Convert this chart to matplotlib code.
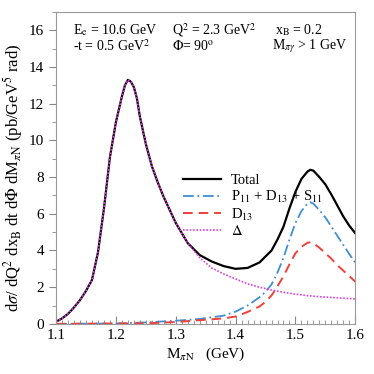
import numpy as np
import matplotlib
matplotlib.use('Agg')
import matplotlib.pyplot as plt
from matplotlib.ticker import MultipleLocator

plt.rcParams['font.family'] = ['Liberation Serif', 'DejaVu Serif']
plt.rcParams['mathtext.fontset'] = 'stix'

# Delta contribution (same as Total below ~1.32 GeV)
x_delta = [1.10, 1.11, 1.12, 1.13, 1.14, 1.15, 1.16, 1.17, 1.18, 1.19, 1.20, 1.21, 1.215,
           1.22, 1.225, 1.23, 1.235, 1.24, 1.25, 1.26, 1.27, 1.28, 1.29, 1.30, 1.32, 1.34,
           1.36, 1.38, 1.40, 1.42, 1.44, 1.46, 1.48, 1.50, 1.52, 1.54, 1.56, 1.58, 1.60]
y_delta = [0.12, 0.3, 0.55, 0.9, 1.3, 1.8, 2.4, 3.9, 6.3, 9.1, 11.0, 12.4, 13.0,
           13.3, 13.2, 12.9, 12.3, 11.3, 9.8, 8.6, 7.7, 6.9, 6.2, 5.5, 4.4, 3.6,
           3.05, 2.72, 2.45, 2.18, 2.0, 1.85, 1.72, 1.62, 1.54, 1.48, 1.44, 1.40, 1.36]

# Total
x_total = x_delta[:25] + [1.34, 1.36, 1.38, 1.40, 1.42, 1.44, 1.46, 1.47, 1.48, 1.49,
                          1.50, 1.51, 1.52, 1.525, 1.53, 1.54, 1.55, 1.56, 1.57, 1.58,
                          1.59, 1.60]
y_total = y_delta[:25] + [3.75, 3.4, 3.15, 3.0, 3.05, 3.35, 4.0, 4.6, 5.3, 6.3,
                          7.2, 7.9, 8.3, 8.4, 8.35, 8.0, 7.6, 7.05, 6.45, 5.85,
                          5.35, 4.94]

# P11 + D13 + S11
x_res = [1.10, 1.20, 1.25, 1.30, 1.34, 1.38, 1.40, 1.42, 1.44, 1.45, 1.46, 1.47,
         1.48, 1.49, 1.50, 1.51, 1.52, 1.525, 1.53, 1.54, 1.55, 1.56, 1.57, 1.58,
         1.59, 1.60]
y_res = [0.0, 0.02, 0.08, 0.17, 0.27, 0.45, 0.67, 1.0, 1.45, 1.75, 2.15, 2.8,
         3.6, 4.6, 5.5, 6.15, 6.55, 6.63, 6.55, 6.2, 5.8, 5.3, 4.8, 4.3,
         3.8, 3.34]

# D13
x_d13 = [1.10, 1.25, 1.30, 1.34, 1.38, 1.40, 1.42, 1.44, 1.45, 1.46, 1.47, 1.48,
         1.49, 1.50, 1.51, 1.52, 1.525, 1.53, 1.54, 1.55, 1.56, 1.57, 1.58, 1.59, 1.60]
y_d13 = [0.0, 0.03, 0.1, 0.2, 0.3, 0.4, 0.65, 0.95, 1.2, 1.55, 2.05, 2.6,
         3.25, 3.85, 4.2, 4.42, 4.45, 4.4, 4.15, 3.85, 3.55, 3.2, 2.9, 2.6, 2.3]

fig = plt.figure(figsize=(3.74, 3.74), dpi=100)
ax = fig.add_axes([0.150, 0.134, 0.800, 0.834])

ax.plot(x_total, y_total, color='black', lw=1.6, label='Total')
ax.plot(x_res, y_res, color='#3f8fd2', lw=1.3, ls=(0, (6, 2, 1, 2)),
        label=r'P$_{11}$ + D$_{13}$ + S$_{11}$')
ax.plot(x_d13, y_d13, color='#f0403a', lw=1.4, ls=(0, (5, 3)), label=r'D$_{13}$')
ax.plot(x_delta, y_delta, color='#e040e0', lw=1.2, ls=(0, (1, 1)), label=r'$\Delta$')

ax.set_xlim(1.1, 1.6)
ax.set_ylim(0, 17)
ax.xaxis.set_major_locator(MultipleLocator(0.1))
ax.xaxis.set_minor_locator(MultipleLocator(0.01))
ax.yaxis.set_major_locator(MultipleLocator(2))
ax.yaxis.set_minor_locator(MultipleLocator(1))
ax.xaxis.set_major_formatter(plt.FuncFormatter(lambda v, p: f'{v:.1f}'))

for sp in ax.spines.values():
    sp.set_color('#999999')
ax.tick_params(axis='x', which='both', direction='in', color='#888888',
               labelsize=11, top=False)
ax.tick_params(axis='x', which='major', length=6)
ax.tick_params(axis='x', which='minor', length=3)
ax.tick_params(axis='y', which='both', direction='out', color='#888888',
               labelsize=11, right=False)
ax.tick_params(axis='y', which='major', length=5)
ax.tick_params(axis='y', which='minor', length=3)

ax.set_xlabel(r'M$_{\pi\mathrm{N}}$   (GeV)', fontsize=11, labelpad=3)
ax.set_ylabel(r'd$\sigma$/ dQ$^2$ dx$_\mathrm{B}$ dt d$\Phi$ dM$_{\pi\mathrm{N}}$ (pb/GeV$^5$ rad)',
              fontsize=12)
ax.yaxis.set_label_coords(-0.105, 0.47)

kw = dict(transform=ax.transData, fontsize=10, va='center', ha='left')
ax.text(1.128, 16.0, r'E$_\mathrm{e}$ = 10.6 GeV', **kw)
ax.text(1.293, 16.0, r'Q$^2$ = 2.3 GeV$^2$', **kw)
ax.text(1.465, 16.0, r'x$_\mathrm{B}$ = 0.2', **kw)
ax.text(1.128, 15.15, r'-t = 0.5 GeV$^2$', **kw)
ax.text(1.293, 15.15, r'$\Phi$= 90$^\mathrm{o}$', **kw)
ax.text(1.460, 15.15, r'M$_{\pi\gamma}$ > 1 GeV', **kw)

ax.legend(loc='upper left', bbox_to_anchor=(0.405, 0.50), frameon=False,
          fontsize=10.5, handlelength=2.6, handletextpad=0.7, labelspacing=0.12,
          borderaxespad=0)

fig.savefig('out.png', dpi=100)
